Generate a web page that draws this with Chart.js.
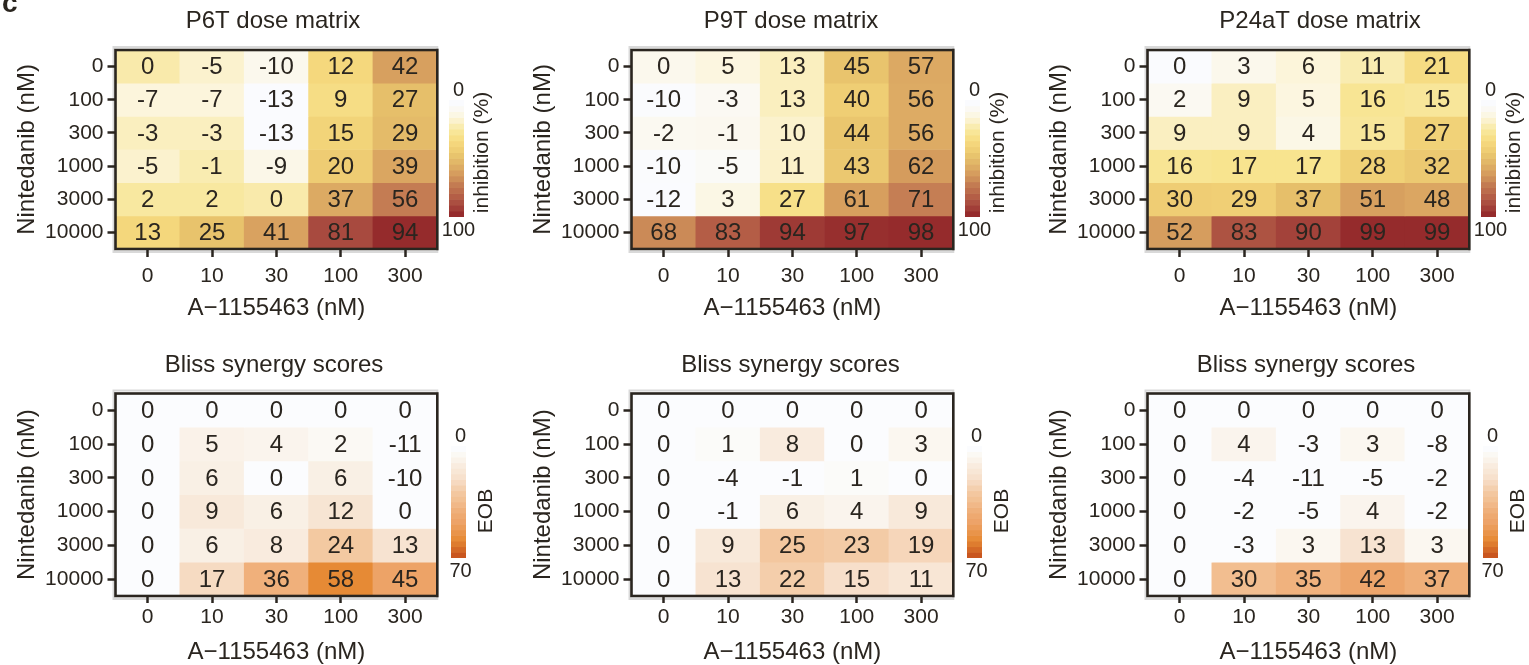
<!DOCTYPE html>
<html>
<head>
<meta charset="utf-8">
<title>Dose matrix and Bliss synergy</title>
<script src="https://cdn.jsdelivr.net/npm/chart.js@4.4.1/dist/chart.umd.min.js"></script>
<style>
  html, body { margin: 0; padding: 0; background: #fff; }
  body { position: relative; width: 1529px; height: 665px; overflow: hidden; }
  canvas { position: absolute; }
</style>
</head>
<body>
<script>
const FONT = '"Liberation Sans", Arial, Helvetica, sans-serif';
const INK = '#2a251f';

// doses: columns = A-1155463, rows = nintedanib
const concA = ['0', '10', '30', '100', '300'];
const concNintedanib = ['0', '100', '300', '1000', '3000', '10000'];

// inhibition (%)
const p6tInhibition = [
  [0, -5, -10, 12, 42],
  [-7, -7, -13, 9, 27],
  [-3, -3, -13, 15, 29],
  [-5, -1, -9, 20, 39],
  [2, 2, 0, 37, 56],
  [13, 25, 41, 81, 94]
];
const p9tInhibition = [
  [0, 5, 13, 45, 57],
  [-10, -3, 13, 40, 56],
  [-2, -1, 10, 44, 56],
  [-10, -5, 11, 43, 62],
  [-12, 3, 27, 61, 71],
  [68, 83, 94, 97, 98]
];
const p24aInhibition = [
  [0, 3, 6, 11, 21],
  [2, 9, 5, 16, 15],
  [9, 9, 4, 15, 27],
  [16, 17, 17, 28, 32],
  [30, 29, 37, 51, 48],
  [52, 83, 90, 99, 99]
];

// excess over Bliss (EOB)
const p6tBliss = [
  [0, 0, 0, 0, 0],
  [0, 5, 4, 2, -11],
  [0, 6, 0, 6, -10],
  [0, 9, 6, 12, 0],
  [0, 6, 8, 24, 13],
  [0, 17, 36, 58, 45]
];
const p9tBliss = [
  [0, 0, 0, 0, 0],
  [0, 1, 8, 0, 3],
  [0, -4, -1, 1, 0],
  [0, -1, 6, 4, 9],
  [0, 9, 25, 23, 19],
  [0, 13, 22, 15, 11]
];
const p24aBliss = [
  [0, 0, 0, 0, 0],
  [0, 4, -3, 3, -8],
  [0, -4, -11, -5, -2],
  [0, -2, -5, 4, -2],
  [0, -3, 3, 13, 3],
  [0, 30, 35, 42, 37]
];

// colour mapping per panel: [low, high, gamma]
const p6tRange = [-13, 94, 1];
const p9tRange = [-12, 98, 1.6];
const p24aRange = [0, 99, 1];
const blissRange = [0, 70, 1];

// colour bar end labels
const inhibitionTicks = ['0', '100'];
const blissTicks = ['0', '70'];

function ramp(stops) {
  const pts = stops.map(([f, hex]) => [f,
    parseInt(hex.slice(1, 3), 16), parseInt(hex.slice(3, 5), 16), parseInt(hex.slice(5, 7), 16)]);
  return f => {
    f = Math.max(0, Math.min(1, f));
    let i = 1;
    while (i < pts.length - 1 && f > pts[i][0]) i++;
    const a = pts[i - 1], b = pts[i];
    const t = (f - a[0]) / (b[0] - a[0]);
    const c = [1, 2, 3].map(k => Math.round(a[k] + (b[k] - a[k]) * t));
    return `rgb(${c[0]},${c[1]},${c[2]})`;
  };
}

const inhibitionRamp = ramp([
  [0.00, '#fafbfe'], [0.06, '#fcf5da'], [0.11, '#f9ecb2'], [0.17, '#f8e48f'],
  [0.23, '#f5d97e'], [0.30, '#efce74'], [0.37, '#e6c06a'], [0.45, '#deae65'],
  [0.51, '#d8a15f'], [0.58, '#ce9059'], [0.645, '#c47c53'], [0.75, '#b96649'],
  [0.88, '#a84a3f'], [1.00, '#952b2c']
]);
const blissRamp = ramp([
  [0.00, '#fbfcfe'], [0.03, '#fbf9f4'], [0.07, '#faf2e9'], [0.13, '#f8e9da'],
  [0.19, '#f7e3d0'], [0.26, '#f6d8be'], [0.34, '#f3c9a2'], [0.43, '#f2be90'],
  [0.50, '#f0b27e'], [0.60, '#eda66c'], [0.64, '#eda368'], [0.83, '#e68a35'],
  [1.00, '#c9561f']
]);

function colorFor(rampFn, range) {
  return v => {
    const f = Math.max(0, Math.min(1, (v - range[0]) / (range[1] - range[0])));
    return rampFn(Math.pow(f, range[2]));
  };
}

function addCanvas(left, top, w, h) {
  const c = document.createElement('canvas');
  c.width = w; c.height = h;
  c.style.left = left + 'px'; c.style.top = top + 'px';
  document.body.appendChild(c);
  return c;
}

// value printed in the middle of every cell
const cellLabels = {
  id: 'cellLabels',
  afterDatasetsDraw(chart) {
    const ctx = chart.ctx;
    ctx.save();
    ctx.font = `24px ${FONT}`;
    ctx.fillStyle = INK;
    ctx.textAlign = 'center';
    ctx.textBaseline = 'middle';
    chart.data.datasets.forEach((ds, i) => {
      chart.getDatasetMeta(i).data.forEach((bar, j) => {
        const p = bar.getCenterPoint();
        ctx.fillText(String(ds.cellValues[j]), p.x, p.y + 1);
      });
    });
    ctx.restore();
  }
};

// light grey shadow behind, dark box on top
const panelFrame = {
  id: 'panelFrame',
  beforeDraw(chart) {
    const { ctx, chartArea: a } = chart;
    ctx.save();
    ctx.strokeStyle = '#d9d9d9';
    ctx.lineWidth = 2;
    ctx.strokeRect(a.left - 2, a.top - 3, a.width + 2, a.height + 6);
    ctx.restore();
  },
  afterDraw(chart) {
    const { ctx, chartArea: a } = chart;
    ctx.save();
    ctx.strokeStyle = INK;
    ctx.lineWidth = 2.6;
    ctx.strokeRect(a.left, a.top, a.width, a.height);
    ctx.restore();
  }
};

const panelTitle = {
  id: 'panelTitle',
  afterDraw(chart, args, opts) {
    const ctx = chart.ctx;
    ctx.save();
    ctx.fillStyle = INK;
    ctx.font = `24px ${FONT}`;
    ctx.textAlign = 'center';
    ctx.textBaseline = 'middle';
    ctx.fillText(opts.text, opts.x, 21);
    if (opts.tag) {
      ctx.font = `bold 28px ${FONT}`;
      ctx.textAlign = 'left';
      ctx.textBaseline = 'alphabetic';
      ctx.fillText(opts.tag, 2, 12);
    }
    ctx.restore();
  }
};

const W = 445, H = 330, BOX_LEFT = 115.5, BOX_RIGHT = 437.3;

function heatmap(p) {
  const canvas = addCanvas(p.left, p.top, W, H);
  const datasets = p.values.map((row, r) => ({
    data: row.map(() => [r, r + 1]),
    cellValues: row,
    backgroundColor: row.map(p.color),
    borderWidth: 0,
    grouped: false,
    barPercentage: 1,
    categoryPercentage: 1
  }));
  return new Chart(canvas, {
    type: 'bar',
    data: { labels: concA, datasets },
    options: {
      responsive: false,
      animation: false,
      events: [],
      layout: { padding: { top: p.boxTop, right: W - BOX_RIGHT, left: 0, bottom: 0 } },
      plugins: {
        legend: { display: false },
        tooltip: { enabled: false },
        panelTitle: { text: p.title, x: p.titleX, tag: p.tag }
      },
      scales: {
        x: {
          offset: true,
          grid: { offset: false, drawOnChartArea: false, tickLength: p.tickLen, tickWidth: 2.5, tickColor: INK },
          border: { display: false },
          ticks: { color: INK, font: { family: FONT, size: 21 }, padding: p.tickPad, autoSkip: false, maxRotation: 0 },
          title: {
            display: true, text: 'A\u22121155463 (nM)', color: INK,
            font: { family: FONT, size: 24 }, padding: { top: 0, bottom: 7.6 }
          },
          afterFit: s => { s.height = H - p.boxBottom; }
        },
        y: {
          type: 'linear',
          min: 0,
          max: concNintedanib.length,
          reverse: true,
          afterBuildTicks: s => { s.ticks = concNintedanib.map((_, i) => ({ value: i + 0.5 })); },
          grid: { drawOnChartArea: false, tickLength: 8, tickWidth: 2.5, tickColor: INK },
          border: { display: false },
          ticks: {
            color: INK, font: { family: FONT, size: 21 }, padding: 4, autoSkip: false,
            callback: v => concNintedanib[Math.floor(v)]
          },
          title: {
            display: true, text: 'Nintedanib (nM)', color: INK,
            font: { family: FONT, size: 24 }, padding: { top: 12.6, bottom: 0 }
          },
          afterFit: s => { s.width = BOX_LEFT; }
        }
      }
    },
    plugins: [panelFrame, cellLabels, panelTitle]
  });
}

const colorbarLabels = {
  id: 'colorbarLabels',
  afterDraw(chart, args, opts) {
    const { ctx, chartArea: a } = chart;
    const cx = (a.left + a.right) / 2 + 2;
    ctx.save();
    ctx.fillStyle = INK;
    ctx.font = `20px ${FONT}`;
    ctx.textAlign = 'center';
    ctx.textBaseline = 'middle';
    ctx.fillText(opts.ticks[0], cx, a.top - 10);
    ctx.fillText(opts.ticks[1], cx, a.bottom + 13);
    ctx.font = `21px ${FONT}`;
    ctx.translate(a.right + opts.labelDx, (a.top + a.bottom) / 2 + opts.labelDy);
    ctx.rotate(-Math.PI / 2);
    ctx.fillText(opts.label, 0, 0);
    ctx.restore();
  }
};

const CB_W = 100, CB_H = 220, BANDS = 20;

function colorbar(p) {
  const canvas = addCanvas(p.left, p.top, CB_W, CB_H);
  const top = Number(p.ticks[1]);
  const datasets = [];
  for (let k = 0; k < BANDS; k++) {
    datasets.push({
      data: [top / BANDS],
      backgroundColor: p.ramp(Math.pow(k / (BANDS - 1), p.gamma)),
      borderWidth: 0,
      barPercentage: 1,
      categoryPercentage: 1
    });
  }
  return new Chart(canvas, {
    type: 'bar',
    data: { labels: [''], datasets },
    options: {
      responsive: false,
      animation: false,
      events: [],
      layout: { padding: { left: p.barLeft, right: CB_W - p.barLeft - 15, top: p.barTop, bottom: CB_H - p.barBottom } },
      plugins: {
        legend: { display: false },
        tooltip: { enabled: false },
        colorbarLabels: { ticks: p.ticks, label: p.label, labelDx: p.labelDx, labelDy: p.labelDy }
      },
      scales: {
        x: { display: false, stacked: true },
        y: { display: false, stacked: true, reverse: true, min: 0, max: top }
      }
    },
    plugins: [colorbarLabels]
  });
}

const colLeft = [0, 516, 1032];
const rowTop = [0, 344];

const topPanels = [
  { title: 'P6T dose matrix', titleX: 273, values: p6tInhibition, range: p6tRange, tag: 'c' },
  { title: 'P9T dose matrix', titleX: 275, values: p9tInhibition, range: p9tRange },
  { title: 'P24aT dose matrix', titleX: 288, values: p24aInhibition, range: p24aRange }
];
const bottomPanels = [
  { title: 'Bliss synergy scores', titleX: 274, values: p6tBliss },
  { title: 'Bliss synergy scores', titleX: 274.5, values: p9tBliss },
  { title: 'Bliss synergy scores', titleX: 274, values: p24aBliss }
];

topPanels.forEach((d, i) => {
  heatmap({
    left: colLeft[i], top: rowTop[0], boxTop: 50, boxBottom: 249, tickLen: 8, tickPad: 6.4,
    title: d.title, titleX: d.titleX, tag: d.tag, values: d.values,
    color: colorFor(inhibitionRamp, d.range)
  });
  colorbar({
    left: colLeft[i] + 430, top: rowTop[0] + 60, barLeft: 19, barTop: 40, barBottom: 157,
    ramp: inhibitionRamp, gamma: 1.4, ticks: inhibitionTicks,
    label: 'inhibition (%)', labelDx: 18, labelDy: -6
  });
});

bottomPanels.forEach((d, i) => {
  heatmap({
    left: colLeft[i], top: rowTop[1], boxTop: 49.5, boxBottom: 252, tickLen: 7, tickPad: 2,
    title: d.title, titleX: d.titleX, values: d.values,
    color: colorFor(blissRamp, blissRange)
  });
  colorbar({
    left: colLeft[i] + 430, top: rowTop[1] + 60, barLeft: 21, barTop: 42, barBottom: 154,
    ramp: blissRamp, gamma: 1.2, ticks: blissTicks,
    label: 'EOB', labelDx: 20, labelDy: 9
  });
});
</script>
</body>
</html>
